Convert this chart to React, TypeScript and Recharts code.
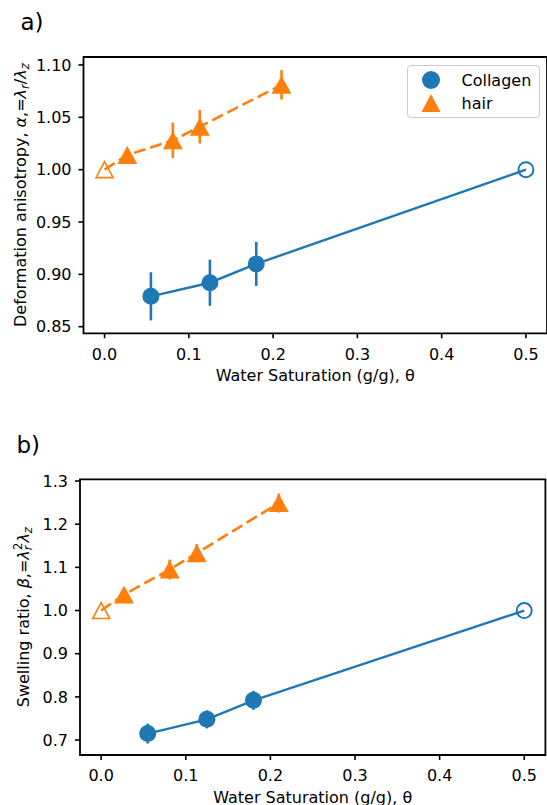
import React from 'react'
import { ScatterChart, Scatter, XAxis, YAxis, ErrorBar, ReferenceArea, Legend } from 'recharts'

const BLUE = '#1f77b4'
const ORANGE = '#ff7f0e'
const FONT = '"DejaVu Sans", sans-serif'

// axis ticks
const xTicks = [0, 0.1, 0.2, 0.3, 0.4, 0.5]
const alphaTicks = [0.85, 0.9, 0.95, 1.0, 1.05, 1.1]
const betaTicks = [0.7, 0.8, 0.9, 1.0, 1.1, 1.2, 1.3]

// water saturation (g/g)
const thetaCollagen = [0.055, 0.125, 0.18]
const thetaCollagenRef = 0.5
const thetaHair = [0.027, 0.081, 0.113, 0.21]
const thetaHairRef = 0

// a) deformation anisotropy
const alphaCollagen = [0.879, 0.892, 0.91]
const alphaCollagenErr = [0.023, 0.022, 0.021]
const alphaHair = [1.014, 1.028, 1.041, 1.081]
const alphaHairErr = [0.005, 0.017, 0.016, 0.014]

// b) swelling ratio
const betaCollagen = [0.715, 0.748, 0.792]
const betaCollagenErr = [0.023, 0.021, 0.022]
const betaHair = [1.037, 1.095, 1.133, 1.249]
const betaHairErr = [0.008, 0.023, 0.021, 0.022]

const refValue = 1.0

function collagenSeries(ys: number[], errs: number[]) {
  const pts = thetaCollagen.map((x, i) => ({ x, y: ys[i], err: errs[i], open: false }))
  return [...pts, { x: thetaCollagenRef, y: refValue, err: 0, open: true }]
}

function hairSeries(ys: number[], errs: number[]) {
  const pts = thetaHair.map((x, i) => ({ x, y: ys[i], err: errs[i], open: false }))
  return [{ x: thetaHairRef, y: refValue, err: 0, open: true }, ...pts]
}

function CircleMark(props: any) {
  const { cx, cy, payload } = props
  if (payload?.open) {
    return <circle cx={cx} cy={cy} r={7.5} fill="none" stroke={BLUE} strokeWidth={2} />
  }
  return <circle cx={cx} cy={cy} r={8.5} fill={BLUE} />
}

function TriangleMark(props: any) {
  const { cx, cy, payload } = props
  if (payload?.open) {
    const w = 8.5, h = 8
    return (
      <polygon
        points={`${cx},${cy - h} ${cx - w},${cy + h} ${cx + w},${cy + h}`}
        fill="none" stroke={ORANGE} strokeWidth={1.6} strokeLinejoin="miter"
      />
    )
  }
  const w = 10, h = 9
  return <polygon points={`${cx},${cy - h} ${cx - w},${cy + h} ${cx + w},${cy + h}`} fill={ORANGE} />
}

function LegendBox() {
  return (
    <div style={{ width: 133, height: 53, boxSizing: 'border-box', border: '1px solid #cccccc', borderRadius: 4, background: 'rgba(255,255,255,0.8)' }}>
      <svg width={131} height={51} style={{ display: 'block' }}>
        <circle cx={23} cy={14} r={9} fill={BLUE} />
        <polygon points="23,28 13.5,46 32.5,46" fill={ORANGE} />
        <text x={53.5} y={19.5} fontSize={16} fontFamily={FONT} fill="#000">Collagen</text>
        <text x={53.5} y={43} fontSize={16} fontFamily={FONT} fill="#000">hair</text>
      </svg>
    </div>
  )
}

const alphaLabel = (
  <>
    Deformation anisotropy, <tspan fontStyle="italic">α</tspan>,=<tspan fontStyle="italic">λ</tspan>
    <tspan fontStyle="italic" fontSize={11.5} dy={3}>r</tspan>
    <tspan dy={-3}>/</tspan>
    <tspan fontStyle="italic">λ</tspan>
    <tspan fontStyle="italic" fontSize={11.5} dy={3}>z</tspan>
  </>
)

const betaLabel = (
  <>
    Swelling ratio, <tspan fontStyle="italic">β</tspan>,=<tspan fontStyle="italic">λ</tspan>
    <tspan fontStyle="italic" fontSize={11.5} dy={3}>r</tspan>
    <tspan fontSize={11.5} dx={-4.5} dy={-9.5}>2</tspan>
    <tspan fontStyle="italic" dy={6.5}>λ</tspan>
    <tspan fontStyle="italic" fontSize={11.5} dy={3}>z</tspan>
  </>
)

type PanelProps = {
  collagen: any[]
  hair: any[]
  yDomain: [number, number]
  yTicks: number[]
  yDigits: number
  title: string
  titleX: number
  titleY: number
  yLabel: React.ReactNode
  yLabelX: number
  height: number
  marginTop: number
  marginRight: number
  yAxisWidth: number
  xAxisHeight: number
  showLegend?: boolean
}

function Panel(p: PanelProps) {
  const xDomain: [number, number] = [-0.025, 0.525]
  const tickStyle = { fill: '#000', fontSize: 16, fontFamily: FONT }
  return (
    <ScatterChart width={547} height={p.height} margin={{ top: p.marginTop, right: p.marginRight, bottom: 0, left: 0 }}>
      <XAxis
        type="number"
        dataKey="x"
        domain={xDomain}
        allowDataOverflow
        ticks={xTicks}
        interval={0}
        tickFormatter={(v: number) => v.toFixed(1)}
        tick={tickStyle}
        tickSize={5}
        tickMargin={10}
        tickLine={{ stroke: '#000', strokeWidth: 1.6 }}
        axisLine={false}
        height={p.xAxisHeight}
        label={{
          content: (props: any) => {
            const vb = props.viewBox || {}
            return (
              <text x={vb.x + vb.width / 2} y={vb.y + 47.8} textAnchor="middle" fontSize={16} fontFamily={FONT} fill="#000">
                Water Saturation (g/g), θ
              </text>
            )
          },
        }}
      />
      <YAxis
        type="number"
        dataKey="y"
        domain={p.yDomain}
        allowDataOverflow
        ticks={p.yTicks}
        interval={0}
        tickFormatter={(v: number) => v.toFixed(p.yDigits)}
        tick={tickStyle}
        tickSize={5}
        tickMargin={7}
        tickLine={{ stroke: '#000', strokeWidth: 1.6 }}
        axisLine={false}
        width={p.yAxisWidth}
        label={{
          content: (props: any) => {
            const vb = props.viewBox || {}
            const cy = vb.y + vb.height / 2
            return (
              <g>
                <text x={p.titleX} y={p.titleY} fontSize={23} fontFamily={FONT} fill="#000">{p.title}</text>
                <text transform={`translate(${p.yLabelX},${cy}) rotate(-90)`} textAnchor="middle" fontSize={16} fontFamily={FONT} fill="#000">
                  {p.yLabel}
                </text>
              </g>
            )
          },
        }}
      />
      <ReferenceArea
        x1={xDomain[0]} x2={xDomain[1]} y1={p.yDomain[0]} y2={p.yDomain[1]}
        fill="none" fillOpacity={0} stroke="#000" strokeWidth={1.8} strokeOpacity={1} ifOverflow="visible"
      />
      <Scatter
        name="Collagen"
        data={p.collagen}
        fill={BLUE}
        line={{ stroke: BLUE, strokeWidth: 2.4 }}
        shape={CircleMark}
        isAnimationActive={false}
      >
        <ErrorBar dataKey="err" direction="y" width={0} stroke={BLUE} strokeWidth={2.6} isAnimationActive={false} />
      </Scatter>
      <Scatter
        name="hair"
        data={p.hair}
        fill={ORANGE}
        line={{ stroke: ORANGE, strokeWidth: 2.6, strokeDasharray: '12 5' }}
        shape={TriangleMark}
        isAnimationActive={false}
      >
        <ErrorBar dataKey="err" direction="y" width={0} stroke={ORANGE} strokeWidth={2.6} isAnimationActive={false} />
      </Scatter>
      {p.showLegend && (
        <Legend
          layout="vertical"
          align="center"
          verticalAlign="middle"
          wrapperStyle={{ left: 407, top: 65, width: 133, height: 53 }}
          content={() => <LegendBox />}
        />
      )}
    </ScatterChart>
  )
}

export default function App() {
  return (
    <div style={{ position: 'absolute', left: 0, top: 0, width: 547, height: 805, background: '#fff' }}>
      <Panel
        collagen={collagenSeries(alphaCollagen, alphaCollagenErr)}
        hair={hairSeries(alphaHair, alphaHairErr)}
        yDomain={[0.8437, 1.1076]}
        yTicks={alphaTicks}
        yDigits={2}
        title="a)"
        titleX={20.5}
        titleY={29.5}
        yLabel={alphaLabel}
        yLabelX={25.5}
        height={400}
        marginTop={57}
        marginRight={0}
        yAxisWidth={83.5}
        xAxisHeight={66.7}
        showLegend
      />
      <Panel
        collagen={collagenSeries(betaCollagen, betaCollagenErr)}
        hair={hairSeries(betaHair, betaHairErr)}
        yDomain={[0.6654, 1.304]}
        yTicks={betaTicks}
        yDigits={1}
        title="b)"
        titleX={16.5}
        titleY={53.3}
        yLabel={betaLabel}
        yLabelX={28.5}
        height={405}
        marginTop={79.3}
        marginRight={1.6}
        yAxisWidth={80}
        xAxisHeight={50}
      />
    </div>
  )
}
